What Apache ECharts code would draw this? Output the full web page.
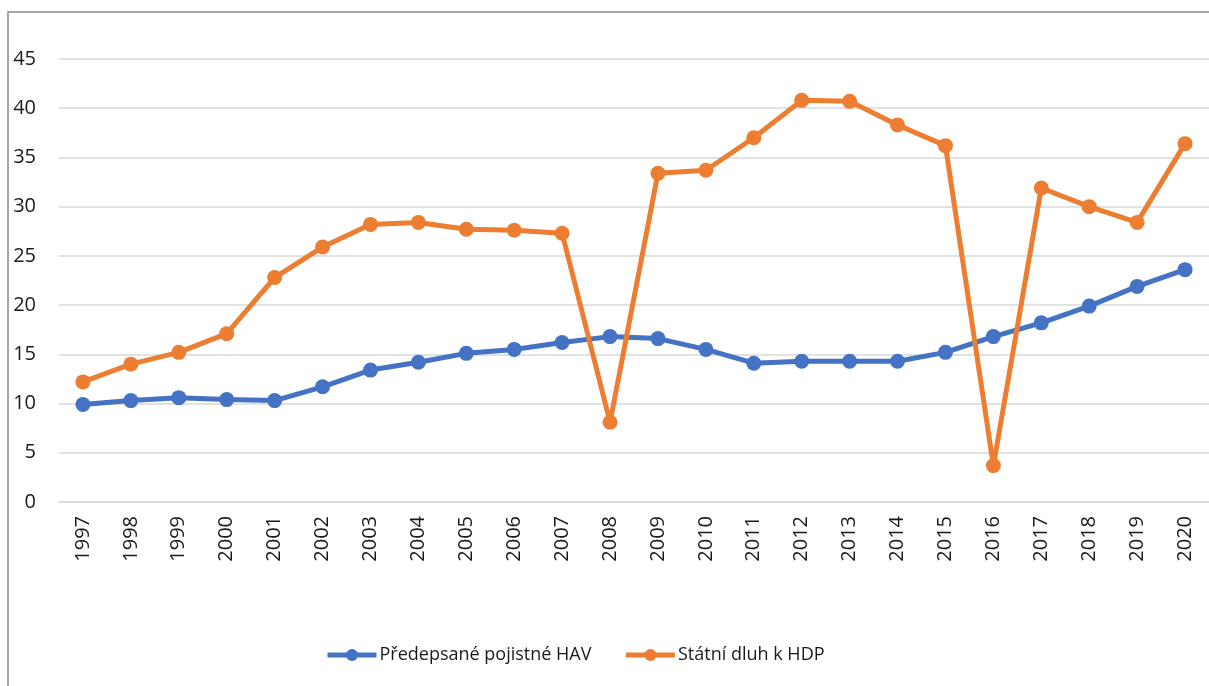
<!DOCTYPE html>
<html><head><meta charset="utf-8">
<script src="https://cdn.jsdelivr.net/npm/echarts@6/dist/echarts.min.js"></script>
<style>html,body{margin:0;padding:0;background:#fff}#c{width:1209px;height:686px}</style>
</head><body><div id="c"></div>
<script>
const years = ['1997','1998','1999','2000','2001','2002','2003','2004','2005','2006','2007','2008','2009','2010','2011','2012','2013','2014','2015','2016','2017','2018','2019','2020'];
const seriesNames = ['Předepsané pojistné HAV','Státní dluh k HDP'];
const pojistne = [9.9,10.3,10.6,10.4,10.3,11.7,13.4,14.2,15.1,15.5,16.2,16.8,16.6,15.5,14.1,14.3,14.3,14.3,15.2,16.8,18.2,19.9,21.9,23.6];
const dluh = [12.2,14.0,15.2,17.1,22.8,25.9,28.2,28.4,27.7,27.6,27.3,8.1,33.4,33.7,37.0,40.8,40.7,38.3,36.2,3.7,31.9,30.0,28.4,36.4];
const colors = ['#4472C4','#ED7D31'];
const font = 'Open Sans';
const chart = echarts.init(document.getElementById('c'));
chart.setOption({
  animation:false,
  textStyle:{fontFamily:font},
  graphic:[{type:'rect',shape:{x:8,y:12,width:1300,height:800},style:{fill:'none',stroke:'#A6A6A6',lineWidth:2},silent:true}],
  grid:{left:59,top:59,width:1152,height:443,containLabel:false},
  legend:{top:641,left:320,itemWidth:49,itemHeight:15,itemGap:32,
    lineStyle:{width:5},
    textStyle:{fontFamily:font,fontSize:18,color:'#1a1a1a',padding:[0,0,0,-2]},data:seriesNames},
  xAxis:{type:'category',data:years,boundaryGap:true,
    axisLine:{lineStyle:{color:'#D9D9D9',width:1.5}},axisTick:{show:false},
    axisLabel:{rotate:90,margin:14,fontSize:20,color:'#1a1a1a',fontFamily:font,interval:0}},
  yAxis:{type:'value',min:0,max:45,interval:5,
    axisLine:{show:false},axisTick:{show:false},
    splitLine:{lineStyle:{color:'#D9D9D9',width:1.5}},
    axisLabel:{margin:23,fontSize:20,color:'#1a1a1a',fontFamily:font}},
  series:[
    {name:seriesNames[0],type:'line',data:pojistne,color:colors[0],symbol:'circle',symbolSize:15,
     lineStyle:{width:5,color:colors[0]},itemStyle:{color:colors[0]},z:3},
    {name:seriesNames[1],type:'line',data:dluh,color:colors[1],symbol:'circle',symbolSize:15,
     lineStyle:{width:5,color:colors[1]},itemStyle:{color:colors[1]},z:4}
  ]
});
</script></body></html>
